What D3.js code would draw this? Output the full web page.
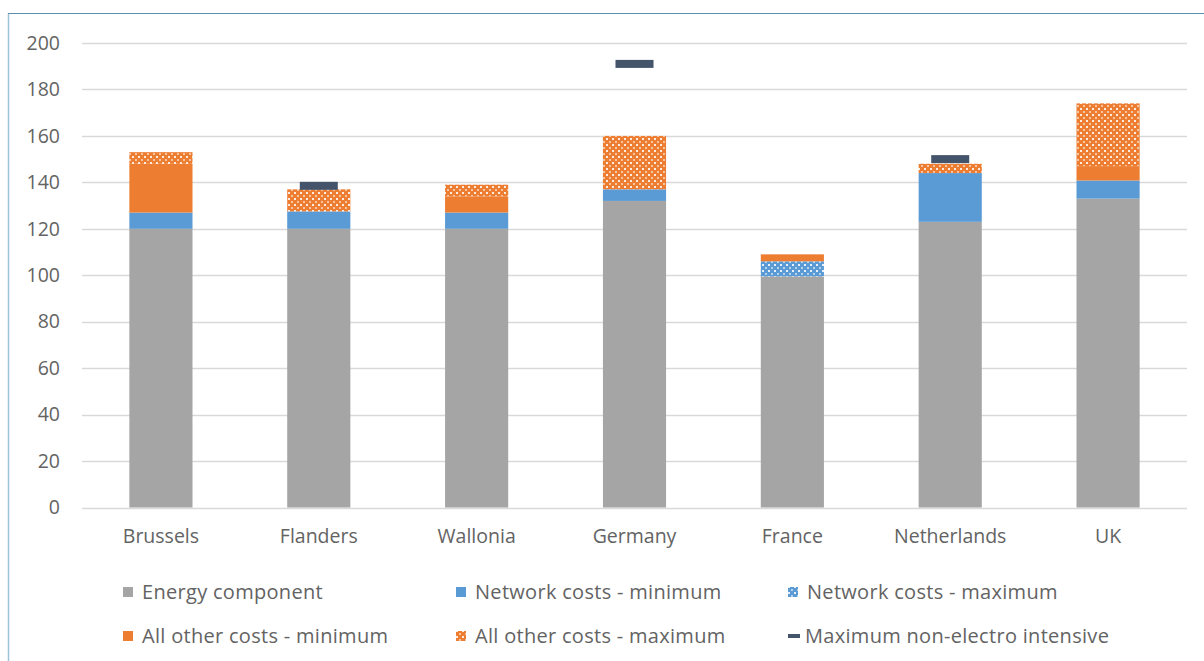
<!DOCTYPE html>
<html>
<head>
<meta charset="utf-8">
<script src="https://cdn.jsdelivr.net/npm/d3@7"></script>
<style>
  body { margin: 0; background: #fff; }
  svg { display: block; font-family: "Open Sans", sans-serif; }
  svg text { font-family: "Open Sans", sans-serif; fill: #636363; }
</style>
</head>
<body>
<div id="container"></div>
<script>
// set the dimensions of the canvas
var width = 1204;
var height = 661;
var margin = { top: 43, right: 17, bottom: 153, left: 82 };

//-----------------------------DATA------------------------------//
var categories = ["Brussels", "Flanders", "Wallonia", "Germany", "France", "Netherlands", "UK"];
var energy = [120, 120, 120, 132, 99.5, 123, 133];
var networkMin = [7, 7.5, 7, 5, 0, 21, 7.8];
var networkMax = [0, 0, 0, 0, 6.5, 0, 0];
var otherMin = [21, 0, 7, 0, 3, 0, 6.2];
var otherMax = [5, 9.5, 5, 23, 0, 4, 27];
var nonElectro = [null, 138.5, null, 191, null, 150, null];
var yTicks = [0, 20, 40, 60, 80, 100, 120, 140, 160, 180, 200];

var keys = ["energy", "networkMin", "networkMax", "otherMin", "otherMax"];
var legendNames = ["Energy component", "Network costs - minimum", "Network costs - maximum",
    "All other costs - minimum", "All other costs - maximum", "Maximum non-electro intensive"];

var rows = categories.map(function (c, i) {
    return {
        cat: c,
        energy: energy[i],
        networkMin: networkMin[i],
        networkMax: networkMax[i],
        otherMin: otherMin[i],
        otherMax: otherMax[i],
        marker: nonElectro[i]
    };
});

var gray = "#a5a5a5", blue = "#5b9bd5", orange = "#ed7d31", navy = "#44546a";

var svg = d3.select("#container").append("svg")
    .attr("width", width)
    .attr("height", height);

// patterns for the "maximum" series
var defs = svg.append("defs");
function addPattern(id, color) {
    var p = defs.append("pattern")
        .attr("id", id)
        .attr("patternUnits", "userSpaceOnUse")
        .attr("width", 6)
        .attr("height", 6);
    p.append("rect").attr("width", 6).attr("height", 6).attr("fill", color);
    p.append("rect").attr("x", 0).attr("y", 0).attr("width", 2).attr("height", 2).attr("fill", "#fff").attr("opacity", 0.85);
    p.append("rect").attr("x", 3).attr("y", 3).attr("width", 2).attr("height", 2).attr("fill", "#fff").attr("opacity", 0.55);
}
addPattern("netMaxPat", blue);
addPattern("othMaxPat", orange);

var fills = {
    energy: gray,
    networkMin: blue,
    networkMax: "url(#netMaxPat)",
    otherMin: orange,
    otherMax: "url(#othMaxPat)"
};

// frame
svg.append("line")
    .attr("x1", 8.5).attr("x2", 8.5).attr("y1", 13).attr("y2", height)
    .attr("stroke", "#9cc3da").attr("stroke-width", 1.5);
svg.append("line")
    .attr("x1", 8).attr("x2", width).attr("y1", 13.5).attr("y2", 13.5)
    .attr("stroke", "#5b8fae").attr("stroke-width", 1);

//----------------------------SCALES-----------------------------//
var x = d3.scaleBand()
    .domain(categories)
    .range([margin.left, width - margin.right])
    .paddingInner(0.6)
    .paddingOuter(0.3);

var y = d3.scaleLinear()
    .domain([0, 200])
    .range([height - margin.bottom - 0.5, margin.top]);

//----------------------------GRID-------------------------------//
svg.append("g")
    .selectAll("line")
    .data(yTicks)
    .enter().append("line")
    .attr("x1", margin.left)
    .attr("x2", width - margin.right)
    .attr("y1", function (d) { return Math.round(y(d)) + 0.5; })
    .attr("y2", function (d) { return Math.round(y(d)) + 0.5; })
    .attr("stroke", "#d9d9d9")
    .attr("stroke-width", 1.5);

var yAxis = d3.axisLeft(y).tickValues(yTicks).tickSize(0).tickPadding(22);
svg.append("g")
    .attr("transform", "translate(" + margin.left + ",0)")
    .call(yAxis)
    .call(function (g) { g.select(".domain").remove(); })
    .selectAll("text")
    .style("font-family", "'Open Sans', sans-serif")
    .style("font-size", "19.5px")
    .style("fill", "#636363");

var xAxis = d3.axisBottom(x).tickSize(0).tickPadding(22);
svg.append("g")
    .attr("transform", "translate(0," + y(0) + ")")
    .call(xAxis)
    .call(function (g) { g.select(".domain").remove(); })
    .selectAll("text")
    .style("font-family", "'Open Sans', sans-serif")
    .style("font-size", "19.5px")
    .style("fill", "#636363");

//----------------------------BARS-------------------------------//
var stacked = d3.stack().keys(keys)(rows);

svg.append("g")
    .selectAll("g")
    .data(stacked)
    .enter().append("g")
    .attr("fill", function (d) { return fills[d.key]; })
    .selectAll("rect")
    .data(function (d) { return d.filter(function (s) { return s[1] > s[0]; }); })
    .enter().append("rect")
    .attr("x", function (d) { return x(d.data.cat); })
    .attr("width", x.bandwidth())
    .attr("y", function (d) { return y(d[1]); })
    .attr("height", function (d) { return y(d[0]) - y(d[1]); });

// non-electro intensive markers
svg.append("g")
    .selectAll("rect")
    .data(rows.filter(function (d) { return d.marker != null; }))
    .enter().append("rect")
    .attr("x", function (d) { return x(d.cat) + x.bandwidth() / 2 - 19; })
    .attr("width", 38)
    .attr("y", function (d) { return y(d.marker) - 4; })
    .attr("height", 8)
    .attr("fill", navy);

//----------------------------LEGEND-----------------------------//
var legendPos = [
    [123, 592], [456, 592], [788, 592],
    [123, 636], [456, 636], [788, 636]
];
var legendFills = [gray, blue, "url(#netMaxPat)", orange, "url(#othMaxPat)", navy];

var legend = svg.append("g")
    .selectAll("g")
    .data(legendNames)
    .enter().append("g")
    .attr("transform", function (d, i) { return "translate(" + legendPos[i][0] + "," + legendPos[i][1] + ")"; });

legend.append("rect")
    .attr("x", 0)
    .attr("y", function (d, i) { return i == 5 ? -2 : -5; })
    .attr("width", function (d, i) { return i == 5 ? 12 : 10; })
    .attr("height", function (d, i) { return i == 5 ? 4 : 10; })
    .attr("fill", function (d, i) { return legendFills[i]; });

legend.append("text")
    .attr("x", function (d, i) { return i == 5 ? 17 : 19; })
    .attr("dy", "0.35em")
    .style("font-size", "20px")
    .style("letter-spacing", "0.3px")
    .style("fill", "#636363")
    .text(function (d) { return d; });
</script>
</body>
</html>
